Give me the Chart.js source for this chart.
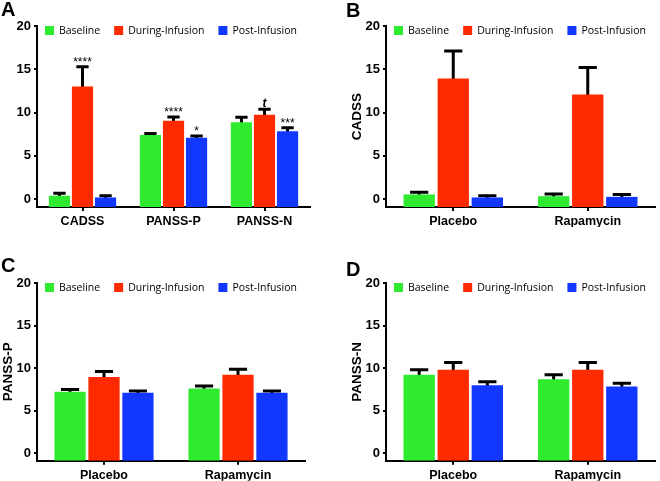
<!DOCTYPE html>
<html><head><meta charset="utf-8">
<script src="https://cdn.jsdelivr.net/npm/chart.js@4.4.0/dist/chart.umd.min.js"></script>
<style>
body{margin:0;background:#fff;}
#wrap{position:relative;width:660px;height:481px;overflow:hidden;background:#fff;}
canvas{position:absolute;}
.lbl{position:absolute;font:bold 20px "Liberation Sans",Arial,sans-serif;color:#000;line-height:20px;}
</style></head><body>
<div id="wrap">
<canvas id="cA" width="330" height="240" style="left:0;top:0"></canvas>
<canvas id="cB" width="330" height="240" style="left:330px;top:0"></canvas>
<canvas id="cC" width="330" height="241" style="left:0;top:240px"></canvas>
<canvas id="cD" width="330" height="241" style="left:330px;top:240px"></canvas>
<div class="lbl" style="left:1px;top:-1px">A</div>
<div class="lbl" style="left:346px;top:0px">B</div>
<div class="lbl" style="left:1px;top:255px">C</div>
<div class="lbl" style="left:346px;top:259px">D</div>
</div>
<script>
// ---- data ----
const seriesNames = ['Baseline', 'During-Infusion', 'Post-Infusion'];
const seriesColors = ['#2FEA2F', '#FF2A00', '#1238FF'];
const yTicks = [0, 5, 10, 15, 20];

const categoriesA = ['CADSS', 'PANSS-P', 'PANSS-N'];
const baselineA = [0.4, 7.4, 8.9];
const baselineErrA = [0.3, 0.2, 0.55];
const duringA = [13.0, 9.05, 9.75];
const duringErrA = [2.3, 0.45, 0.65];
const postA = [0.2, 7.1, 7.85];
const postErrA = [0.2, 0.2, 0.4];
const sigBaselineA = ['', '', ''];
const sigDuringA = ['****', '****', 't'];
const sigPostA = ['', '*', '***'];

const categoriesBCD = ['Placebo', 'Rapamycin'];
const baselineB = [0.55, 0.35];
const baselineErrB = [0.25, 0.25];
const duringB = [13.95, 12.1];
const duringErrB = [3.15, 3.1];
const postB = [0.2, 0.27];
const postErrB = [0.2, 0.28];

const baselineC = [7.2, 7.6];
const baselineErrC = [0.27, 0.3];
const duringC = [8.95, 9.2];
const duringErrC = [0.65, 0.65];
const postC = [7.1, 7.1];
const postErrC = [0.2, 0.2];

const baselineD = [9.2, 8.67];
const baselineErrD = [0.6, 0.55];
const duringD = [9.8, 9.8];
const duringErrD = [0.85, 0.85];
const postD = [7.96, 7.84];
const postErrD = [0.42, 0.38];

// ---- drawing ----
const Y_MIN = -0.9, Y_MAX = 20;
const FAM = '"Liberation Sans", Arial, Helvetica, sans-serif';

const errorBars = {
  id: 'errorBars',
  beforeDatasetsDraw(chart) {
    const ctx = chart.ctx, y = chart.scales.y;
    chart.data.datasets.forEach((ds, di) => {
      const meta = chart.getDatasetMeta(di);
      meta.data.forEach((bar, i) => {
        const v = ds.data[i], e = ds.errors[i];
        const top = y.getPixelForValue(v + e), bot = y.getPixelForValue(v) + 2;
        const hw = bar.width * 0.29;
        ctx.save();
        ctx.strokeStyle = '#000'; ctx.lineWidth = 3; ctx.lineCap = 'butt';
        ctx.beginPath();
        ctx.moveTo(bar.x, bot); ctx.lineTo(bar.x, top);
        ctx.moveTo(bar.x - hw, top); ctx.lineTo(bar.x + hw, top);
        ctx.stroke();
        ctx.restore();
      });
    });
  }
};

const sigLabels = {
  id: 'sigLabels',
  afterDatasetsDraw(chart) {
    const ctx = chart.ctx, y = chart.scales.y;
    chart.data.datasets.forEach((ds, di) => {
      if (!ds.sigs) return;
      const meta = chart.getDatasetMeta(di);
      meta.data.forEach((bar, i) => {
        const s = ds.sigs[i];
        if (!s) return;
        const top = y.getPixelForValue(ds.data[i] + ds.errors[i]);
        ctx.save();
        ctx.fillStyle = '#000';
        ctx.textAlign = 'center';
        ctx.textBaseline = 'alphabetic';
        if (s === 't') {
          ctx.font = 'italic bold 12px ' + FAM;
          ctx.fillText(s, bar.x, top - 2);
        } else {
          ctx.font = '12px ' + FAM;
          ctx.fillText(s, bar.x, top - 0.5);
        }
        ctx.restore();
      });
    });
  }
};

const innerLegend = {
  id: 'innerLegend',
  afterDraw(chart) {
    const ctx = chart.ctx, a = chart.chartArea;
    let x = a.left + 8;
    const cy = a.top + 4.5;
    ctx.save();
    ctx.font = '10.5px "Open Sans", sans-serif';
    ctx.textBaseline = 'middle';
    ctx.textAlign = 'left';
    chart.data.datasets.forEach(ds => {
      ctx.fillStyle = ds.backgroundColor;
      ctx.fillRect(x, cy - 4.5, 9, 9);
      x += 14;
      ctx.fillStyle = '#000';
      ctx.fillText(ds.label, x, cy + 0.5);
      x += ctx.measureText(ds.label).width + 14;
    });
    ctx.restore();
  }
};

function makeChart(id, cats, vals, errs, sigs, o) {
  return new Chart(document.getElementById(id), {
    type: 'bar',
    data: {
      labels: cats,
      datasets: seriesNames.map((n, i) => ({
        label: n,
        data: vals[i],
        errors: errs[i],
        sigs: sigs ? sigs[i] : null,
        backgroundColor: seriesColors[i],
        base: Y_MIN,
        categoryPercentage: 0.76,
        barPercentage: 0.92
      }))
    },
    options: {
      responsive: false,
      animation: false,
      devicePixelRatio: 1,
      layout: { padding: { left: 0, top: o.top, right: o.right, bottom: o.bottom } },
      plugins: { legend: { display: false }, tooltip: { enabled: false } },
      scales: {
        x: {
          grid: { display: true, drawOnChartArea: false, drawTicks: true, tickLength: 4, color: '#000', lineWidth: 2, offset: false },
          border: { display: true, color: '#000', width: 2 },
          ticks: { color: '#000', font: { family: FAM, size: 12.5, weight: 'bold' }, padding: 3, maxRotation: 0 },
          afterFit: s => { s.height = o.xh; }
        },
        y: {
          min: Y_MIN, max: Y_MAX,
          ticks: { stepSize: 5, color: '#000', font: { family: FAM, size: 13, weight: 'bold' }, padding: 3 },
          grid: { display: true, drawOnChartArea: false, drawTicks: true, tickLength: 3, color: '#000', lineWidth: 2 },
          border: { display: true, color: '#000', width: 2 },
          title: { display: !!o.ytitle, text: o.ytitle || '', color: '#000', font: { family: FAM, size: 13.5, weight: 'bold' }, padding: { top: o.tpad || 0, bottom: 0 } },
          afterBuildTicks: s => { s.ticks = yTicks.map(v => ({ value: v })); },
          afterFit: s => { s.width = o.left; }
        }
      }
    },
    plugins: [errorBars, sigLabels, innerLegend]
  });
}

makeChart('cA', categoriesA,
  [baselineA, duringA, postA], [baselineErrA, duringErrA, postErrA],
  [sigBaselineA, sigDuringA, sigPostA],
  { top: 26, right: 20, bottom: 13, xh: 20, left: 37 });
makeChart('cB', categoriesBCD,
  [baselineB, duringB, postB], [baselineErrB, duringErrB, postErrB], null,
  { top: 26, right: 5, bottom: 13, xh: 20, left: 56, ytitle: 'CADSS', tpad: 19 });
makeChart('cC', categoriesBCD,
  [baselineC, duringC, postC], [baselineErrC, duringErrC, postErrC], null,
  { top: 43, right: 25, bottom: 0.3, xh: 20, left: 37, ytitle: 'PANSS-P', tpad: 0.5 });
makeChart('cD', categoriesBCD,
  [baselineD, duringD, postD], [baselineErrD, duringErrD, postErrD], null,
  { top: 43, right: 5, bottom: 0.3, xh: 20, left: 56, ytitle: 'PANSS-N', tpad: 19 });
</script>
</body></html>
